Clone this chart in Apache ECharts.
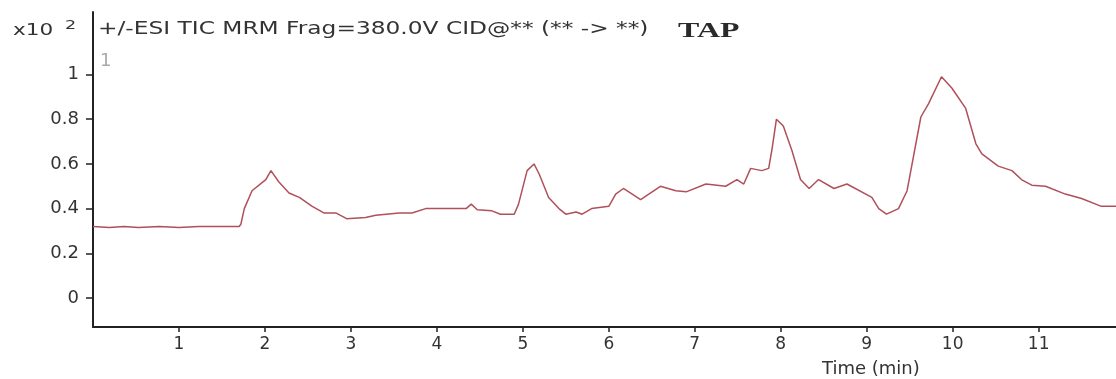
<!DOCTYPE html>
<html>
<head>
  <meta charset="utf-8">
  <title>TIC MRM TAP</title>
  <style>
    html, body { margin: 0; padding: 0; background: #fff; }
    #chart { width: 1116px; height: 379px; }
  </style>
</head>
<body>
  <div id="chart"></div>
  <script src="https://cdn.jsdelivr.net/npm/echarts@6/dist/echarts.min.js"></script>
  <script>
  // retention time (min) and response (x10^2)
  const times = [
    0.00, 0.19, 0.36, 0.53, 0.77, 1.00, 1.23, 1.47, 1.70, 1.72, 1.76, 1.85,
    2.01, 2.07, 2.16, 2.28, 2.40, 2.55, 2.69, 2.83, 2.95, 3.17, 3.29, 3.56,
    3.71, 3.87, 4.34, 4.40, 4.47, 4.64, 4.74, 4.90, 4.95, 5.05, 5.13, 5.19,
    5.30, 5.42, 5.50, 5.62, 5.69, 5.80, 6.00, 6.08, 6.17, 6.37, 6.60, 6.78,
    6.90, 7.13, 7.36, 7.49, 7.57, 7.65, 7.78, 7.86, 7.90, 7.95, 8.03, 8.13,
    8.23, 8.33, 8.44, 8.62, 8.77, 9.06, 9.14, 9.23, 9.37, 9.47, 9.63, 9.72,
    9.87, 9.99, 10.15, 10.27, 10.34, 10.53, 10.69, 10.80, 10.92, 11.08, 11.31, 11.50,
    11.73, 11.90
  ];
  const response = [
    0.320, 0.315, 0.320, 0.315, 0.320, 0.315, 0.320, 0.320, 0.320, 0.330, 0.400, 0.480,
    0.530, 0.570, 0.520, 0.470, 0.450, 0.410, 0.380, 0.380, 0.355, 0.360, 0.370, 0.380,
    0.380, 0.400, 0.400, 0.420, 0.395, 0.390, 0.375, 0.375, 0.420, 0.570, 0.600, 0.555,
    0.450, 0.400, 0.375, 0.385, 0.375, 0.400, 0.410, 0.465, 0.490, 0.440, 0.500, 0.480,
    0.475, 0.510, 0.500, 0.530, 0.510, 0.580, 0.570, 0.580, 0.670, 0.800, 0.770, 0.660,
    0.530, 0.490, 0.530, 0.490, 0.510, 0.450, 0.400, 0.375, 0.400, 0.480, 0.810, 0.870,
    0.990, 0.940, 0.850, 0.690, 0.645, 0.590, 0.570, 0.530, 0.505, 0.500, 0.465, 0.445,
    0.410, 0.410
  ];
  const xTicks = [1, 2, 3, 4, 5, 6, 7, 8, 9, 10, 11];
  const yTicks = [0, 0.2, 0.4, 0.6, 0.8, 1];

  const font = 'DejaVu Sans, Verdana, sans-serif';
  const ink = '#333';
  const chart = echarts.init(document.getElementById('chart'));

  // the reference text is drawn wide, so labels get a horizontal stretch
  const label = (text, x, y, size, opts) => Object.assign({
    type: 'text', x: x, y: y, scaleX: 1.35,
    style: { text: text, fontFamily: font, fontSize: size, fill: ink, align: 'left', verticalAlign: 'middle' }
  }, opts || {});

  chart.setOption({
    animation: false,
    grid: { left: 93, right: 0, top: 12, bottom: 52 },
    xAxis: {
      type: 'value',
      min: 0,
      max: 11.9,
      axisLine: { show: true, onZero: false, lineStyle: { color: '#222', width: 2 } },
      axisTick: { show: true, length: 5, customValues: xTicks, lineStyle: { color: '#222', width: 1.5 } },
      axisLabel: {
        customValues: xTicks,
        color: ink, fontFamily: font, fontSize: 17, margin: 9
      },
      splitLine: { show: false }
    },
    yAxis: {
      type: 'value',
      min: -0.13,
      max: 1.28,
      axisLine: { show: true, onZero: false, lineStyle: { color: '#222', width: 2 } },
      axisTick: { show: true, length: 7, customValues: yTicks, lineStyle: { color: '#222', width: 1.5 } },
      axisLabel: {
        customValues: yTicks,
        color: ink, fontFamily: font, fontSize: 18, margin: 14,
        formatter: v => String(v)
      },
      splitLine: { show: false }
    },
    series: [{
      type: 'line',
      data: times.map((t, i) => [t, response[i]]),
      showSymbol: false,
      lineStyle: { color: '#b0505a', width: 1.5 }
    }],
    graphic: [
      label('x10', 13, 31, 16),
      label('2', 65, 26, 13),
      label('+/-ESI TIC MRM Frag=380.0V CID@** (** -> **)', 98, 30, 17, { scaleX: 1.37 }),
      {
        type: 'text', x: 678, y: 31, scaleX: 1.45,
        style: {
          text: 'TAP', fontFamily: 'Liberation Serif, serif', fontSize: 22, fontWeight: 'bold',
          fill: '#2a2a2a', align: 'left', verticalAlign: 'middle'
        }
      },
      {
        type: 'text', x: 100, y: 61,
        style: { text: '1', fontFamily: font, fontSize: 18, fill: '#aaa', align: 'left', verticalAlign: 'middle' }
      },
      label('Time (min)', 822, 369, 18, { scaleX: 1.0 })
    ]
  });
  </script>
</body>
</html>
